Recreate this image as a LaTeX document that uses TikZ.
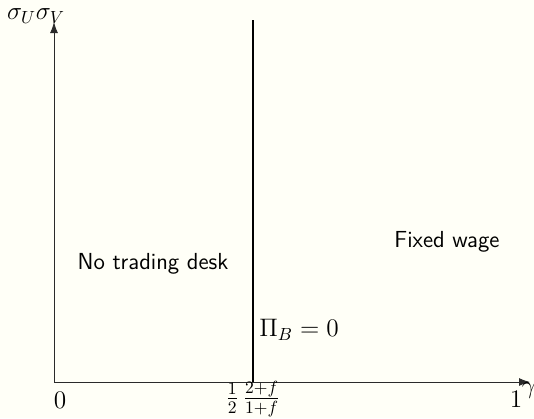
\documentclass[tikz,border=0pt]{standalone}
\usepackage{amsmath,amssymb}
\usetikzlibrary{arrows.meta,positioning}
\definecolor{paper}{HTML}{FFFFF7}
\definecolor{ax}{HTML}{2A2A2A}
\tikzset{
  >={Latex[length=2.2mm,width=1.6mm]},
  every node/.style={font=\Large},
  axis/.style={->, draw=ax, line width=0.55pt},
  bound/.style={draw=black, line width=1.2pt},
  region/.style={font=\fontsize{13.2}{16}\selectfont\sffamily, inner sep=0pt},
  tick/.style={inner sep=1pt},
}

\begin{document}
\begin{tikzpicture}
\fill[paper] (0,0) rectangle (10.68,8.36);
\useasboundingbox (0,0) rectangle (10.68,8.36);

% axes
\coordinate (O) at (1.08,0.72);
\coordinate (xend) at (10.6,0.72);
\coordinate (yend) at (1.08,7.92);
\draw[axis] (O) -- (xend);
\draw[axis] (O) -- (yend);
\node[inner sep=0pt] (ylab) at (0.72,8.04) {$\sigma_U\sigma_V$};
\node[inner sep=0pt] (glab) at (10.58,0.54) {$\gamma$};
\node[tick] (zero) at (1.2,0.36) {$0$};
\node[tick] (one) at (10.32,0.38) {$1$};

% boundary Pi_B = 0
\coordinate (bbot) at (5.06,0.72);
\coordinate (btop) at (5.06,7.96);
\draw[bound] (bbot) -- (btop);
\node[tick] (thr) at (5.06,0.38) {$\tfrac12\,\tfrac{2+f}{1+f}$};
\node[inner sep=0pt] (pib) at (5.98,1.76) {$\Pi_B=0$};

% regions
\node[region] (notd) at (3.06,3.08) {No trading desk};
\node[region] (fixw) at (8.94,3.52) {Fixed wage};
\end{tikzpicture}
\end{document}
